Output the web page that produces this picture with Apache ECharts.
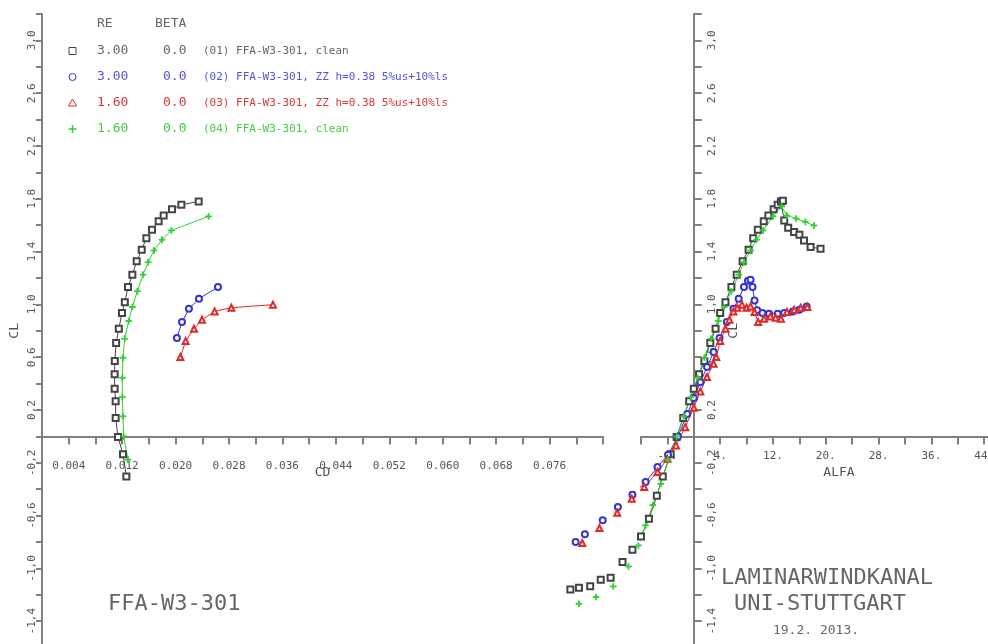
<!DOCTYPE html>
<html>
<head>
<meta charset="utf-8">
<script src="https://cdn.jsdelivr.net/npm/echarts@6/dist/echarts.min.js"></script>
<style>
  html, body { margin: 0; padding: 0; background: #fff; }
  #main { width: 988px; height: 644px; }
</style>
</head>
<body>
<div id="main"></div>
<script>
// lift curves CL(alfa)
var blackAlfa = [-18.7, -17.4, -15.7, -14.1, -12.6, -10.8, -9.3, -8.0, -6.8, -5.6, -4.7, -3.5, -2.6, -1.6, -0.7, 0.0, 0.8, 1.6, 2.5, 3.3, 4.0, 4.8, 5.7, 6.5, 7.4, 8.3, 9.0, 9.7, 10.6, 11.3, 12.1, 12.7, 13.2, 13.5, 13.7, 14.3, 15.2, 16.0, 16.7, 17.7, 19.2];
var blackCl = [-1.159, -1.146, -1.136, -1.086, -1.07, -0.952, -0.859, -0.758, -0.624, -0.45, -0.303, -0.136, -0.005, 0.139, 0.267, 0.361, 0.47, 0.571, 0.707, 0.816, 0.934, 1.017, 1.131, 1.225, 1.326, 1.414, 1.502, 1.566, 1.629, 1.674, 1.72, 1.755, 1.78, 1.785, 1.636, 1.58, 1.548, 1.528, 1.485, 1.434, 1.422];

var blueAlfa = [-17.9, -16.5, -13.8, -11.5, -9.3, -7.3, -5.5, -3.9, -2.4, -1.0, 0.0, 1.0, 2.0, 3.0, 3.9, 5.0, 6.0, 6.8, 7.6, 8.2, 8.6, 8.9, 9.2, 9.6, 10.4, 11.4, 12.7, 13.7, 15.0, 16.0, 17.1];
var blueCl = [-0.80, -0.742, -0.636, -0.535, -0.442, -0.346, -0.232, -0.139, 0.0, 0.17, 0.29, 0.41, 0.525, 0.64, 0.745, 0.866, 0.967, 1.043, 1.131, 1.18, 1.187, 1.131, 1.03, 0.955, 0.934, 0.929, 0.93, 0.934, 0.947, 0.96, 0.985];

var redAlfa = [-16.9, -14.3, -11.6, -9.4, -7.5, -5.5, -4.0, -2.7, -1.3, 0.0, 1.0, 2.0, 3.0, 3.4, 4.0, 4.8, 5.4, 6.0, 6.6, 7.3, 8.0, 8.6, 9.2, 9.75, 10.65, 11.6, 12.4, 13.2, 14.1, 15.2, 16.2, 17.2];
var redCl = [-0.808, -0.694, -0.578, -0.472, -0.384, -0.27, -0.17, -0.068, 0.07, 0.217, 0.341, 0.45, 0.55, 0.601, 0.722, 0.816, 0.884, 0.947, 0.975, 0.998, 0.975, 0.985, 0.942, 0.866, 0.891, 0.909, 0.899, 0.891, 0.942, 0.96, 0.975, 0.98];

var greenAlfa = [-17.4, -14.8, -12.2, -9.9, -8.4, -7.3, -6.2, -5.0, -3.9, -2.6, -1.5, -0.45, 0.56, 1.6, 2.6, 3.7, 4.6, 5.7, 6.8, 7.6, 8.6, 9.5, 10.5, 12.0, 13.3, 14.1, 15.5, 16.9, 18.2];
var greenCl = [-1.268, -1.217, -1.136, -0.985, -0.826, -0.674, -0.52, -0.36, -0.177, 0.0, 0.152, 0.298, 0.444, 0.596, 0.74, 0.874, 0.98, 1.10, 1.225, 1.32, 1.409, 1.49, 1.56, 1.667, 1.742, 1.674, 1.65, 1.625, 1.598];

// polars CL(CD)
var blackCd = [0.01263, 0.01213, 0.01138, 0.01103, 0.01103, 0.01088, 0.01088, 0.0109, 0.0111, 0.0115, 0.01198, 0.0124, 0.01288, 0.01353, 0.01418, 0.01493, 0.01563, 0.01647, 0.01747, 0.01822, 0.01947, 0.02087, 0.02346];
var blackClPolar = [-0.303, -0.136, -0.005, 0.139, 0.267, 0.361, 0.47, 0.571, 0.707, 0.816, 0.934, 1.017, 1.131, 1.225, 1.326, 1.414, 1.502, 1.566, 1.629, 1.674, 1.72, 1.755, 1.78];

var blueCd = [0.0202, 0.02096, 0.022, 0.0235, 0.02635];
var blueClPolar = [0.745, 0.866, 0.967, 1.043, 1.131];

var redCd = [0.02072, 0.02151, 0.02276, 0.02396, 0.02585, 0.02835, 0.03458];
var redClPolar = [0.601, 0.722, 0.816, 0.884, 0.947, 0.975, 0.998];

var greenCd = [0.01288, 0.01223, 0.01213, 0.01203, 0.01203, 0.01213, 0.01238, 0.01298, 0.01353, 0.01428, 0.01512, 0.0159, 0.01677, 0.01797, 0.01937, 0.02495];
var greenClPolar = [-0.177, 0.0, 0.152, 0.298, 0.444, 0.596, 0.74, 0.874, 0.98, 1.10, 1.225, 1.32, 1.409, 1.49, 1.56, 1.667];

// legend rows
var legendRe = ["3.00", "3.00", "1.60", "1.60"];
var legendBeta = ["0.0", "0.0", "0.0", "0.0"];
var legendNames = ["(01) FFA-W3-301, clean", "(02) FFA-W3-301, ZZ h=0.38 5%us+10%ls", "(03) FFA-W3-301, ZZ h=0.38 5%us+10%ls", "(04) FFA-W3-301, clean"];

var colors = ["#444444", "#3434d4", "#e02a2a", "#34d034"];
var textColors = ["#666666", "#5555d0", "#d83838", "#44cc44"];
var plusPath = "path://M4.3,0H5.7V4.3H10V5.7H5.7V10H4.3V5.7H0V4.3H4.3Z";
var symbols = ["emptyRect", "emptyCircle", "emptyTriangle", plusPath];
var sizes = [6, 6, 6, 6];

var FONT = "'DejaVu Sans Mono', monospace";
var axisGray = "#808080";

// plot frame: left panel CD 0..0.084, right panel ALFA -8..52, both CL -1.6..3.2
var gridTop = 14, gridH = 633.6;
var zeroOffset = -(gridH * 1.6 / 4.8);   // move x axes up to CL = 0
var alfaZeroOffset = -(396 * 52 / 60);   // move right CL axis (from right edge) to ALFA = 0

function zip(a, b) {
    var out = [];
    for (var i = 0; i < a.length; i++) out.push([a[i], b[i]]);
    return out;
}

function clLabel(v) {
    var k = Math.abs(Math.round(v * 10)) % 4;
    if (k !== 2) return "";
    return v.toFixed(1).replace(".", ",");
}

function initializeChart() {
    var chart = echarts.init(document.getElementById("main"));

    var polars = [[blackCd, blackClPolar], [blueCd, blueClPolar], [redCd, redClPolar], [greenCd, greenClPolar]];
    var lifts = [[blackAlfa, blackCl], [blueAlfa, blueCl], [redAlfa, redCl], [greenAlfa, greenCl]];

    var series = [];
    for (var i = 0; i < 4; i++) {
        var common = {
            type: "line",
            symbol: symbols[i],
            symbolSize: sizes[i],
            showAllSymbol: true,
            clip: false,
            animation: false,
            lineStyle: { color: colors[i], width: 1 },
            itemStyle: { color: colors[i], borderColor: colors[i], borderWidth: 1 },
            z: 3
        };
        series.push(Object.assign({}, common, {
            xAxisIndex: 0, yAxisIndex: 0,
            data: zip(polars[i][0], polars[i][1])
        }));
        series.push(Object.assign({}, common, {
            xAxisIndex: 1, yAxisIndex: 1,
            data: zip(lifts[i][0], lifts[i][1])
        }));
    }

    var graphics = [
        { type: "text", x: 97, y: 24, style: { text: "RE", font: "13px " + FONT, fill: "#666", verticalAlign: "middle" } },
        { type: "text", x: 155, y: 24, style: { text: "BETA", font: "13px " + FONT, fill: "#666", verticalAlign: "middle" } },
        { type: "text", x: 108, y: 604, style: { text: "FFA-W3-301", font: "22px " + FONT, fill: "#666", verticalAlign: "middle" } },
        { type: "text", x: 827, y: 578, style: { text: "LAMINARWINDKANAL", font: "22px " + FONT, fill: "#666", align: "center", verticalAlign: "middle" } },
        { type: "text", x: 820, y: 604, style: { text: "UNI-STUTTGART", font: "22px " + FONT, fill: "#666", align: "center", verticalAlign: "middle" } },
        { type: "text", x: 816, y: 631, style: { text: "19.2. 2013.", font: "13px " + FONT, fill: "#666", align: "center", verticalAlign: "middle" } }
    ];
    var rowY = [51, 77, 103, 129];
    for (var r = 0; r < 4; r++) {
        graphics.push({ type: "text", x: 97, y: rowY[r], style: { text: legendRe[r], font: "13px " + FONT, fill: textColors[r], verticalAlign: "middle" } });
        graphics.push({ type: "text", x: 163, y: rowY[r], style: { text: legendBeta[r], font: "13px " + FONT, fill: textColors[r], verticalAlign: "middle" } });
        graphics.push({ type: "text", x: 203, y: rowY[r], style: { text: legendNames[r], font: "11px " + FONT, fill: textColors[r], verticalAlign: "middle" } });
    }
    graphics.push({ type: "rect", shape: { x: 69, y: rowY[0] - 3.5, width: 7, height: 7 }, style: { fill: "none", stroke: colors[0], lineWidth: 1 } });
    graphics.push({ type: "circle", shape: { cx: 72.5, cy: rowY[1], r: 3.5 }, style: { fill: "none", stroke: colors[1], lineWidth: 1 } });
    graphics.push({ type: "polygon", shape: { points: [[72.5, rowY[2] - 4], [76.5, rowY[2] + 3], [68.5, rowY[2] + 3]] }, style: { fill: "none", stroke: colors[2], lineWidth: 1 } });
    graphics.push({ type: "polyline", shape: { points: [[68.5, rowY[3]], [76.5, rowY[3]]] }, style: { stroke: colors[3], lineWidth: 1.5 } });
    graphics.push({ type: "polyline", shape: { points: [[72.5, rowY[3] - 4], [72.5, rowY[3] + 4]] }, style: { stroke: colors[3], lineWidth: 1.5 } });

    var axisLineStyle = { color: axisGray, width: 2 };
    var labelStyle = { fontFamily: FONT, fontSize: 11, color: "#555" };
    var nameStyle = { fontFamily: FONT, fontSize: 13, color: "#555" };

    var options = {
        backgroundColor: "#fff",
        animation: false,
        grid: [
            { left: 42, top: gridTop, width: 561, height: gridH, outerBoundsMode: "none", containLabel: false },
            { left: 641, top: gridTop, width: 396, height: gridH, outerBoundsMode: "none", containLabel: false }
        ],
        xAxis: [{
            gridIndex: 0, type: "value", min: 0, max: 0.084, interval: 0.004,
            position: "bottom", offset: zeroOffset,
            axisLine: { onZero: false, lineStyle: axisLineStyle },
            axisTick: { length: 8, lineStyle: axisLineStyle },
            splitLine: { show: false },
            axisLabel: Object.assign({}, labelStyle, {
                margin: 24,
                formatter: function (v) {
                    var k = Math.round(v / 0.004);
                    return (k % 2 === 1 && v < 0.08) ? v.toFixed(3) : "";
                }
            }),
            name: "CD", nameLocation: "middle", nameGap: 30, nameMoveOverlap: false,
            nameTextStyle: nameStyle
        }, {
            gridIndex: 1, type: "value", min: -8, max: 52, interval: 4,
            position: "bottom", offset: zeroOffset,
            axisLine: { onZero: false, lineStyle: axisLineStyle },
            axisTick: { length: 8, lineStyle: axisLineStyle },
            splitLine: { show: false },
            axisLabel: Object.assign({}, labelStyle, {
                margin: 14,
                formatter: function (v) {
                    var k = Math.round(v / 4);
                    return (Math.abs(k) % 2 === 1) ? v + "." : "";
                }
            }),
            name: "ALFA", nameLocation: "middle", nameGap: 30, nameMoveOverlap: false,
            nameTextStyle: nameStyle
        }],
        yAxis: [{
            gridIndex: 0, type: "value", min: -1.6, max: 3.2, interval: 0.2,
            position: "left",
            axisLine: { onZero: false, lineStyle: axisLineStyle },
            axisTick: { length: 6, lineStyle: axisLineStyle },
            splitLine: { show: false },
            axisLabel: Object.assign({}, labelStyle, { rotate: 90, margin: 4, formatter: clLabel }),
            name: "CL", nameLocation: "middle", nameGap: 21, nameRotate: 90, nameMoveOverlap: false,
            nameTextStyle: nameStyle
        }, {
            gridIndex: 1, type: "value", min: -1.6, max: 3.2, interval: 0.2,
            position: "right", offset: alfaZeroOffset,
            axisLine: { onZero: false, lineStyle: axisLineStyle },
            axisTick: { length: 8, lineStyle: axisLineStyle },
            splitLine: { show: false },
            axisLabel: Object.assign({}, labelStyle, { rotate: 90, margin: 13, formatter: clLabel }),
            name: "CL", nameLocation: "middle", nameGap: 33, nameRotate: 90, nameMoveOverlap: false,
            nameTextStyle: nameStyle
        }],
        graphic: graphics,
        series: series
    };

    chart.setOption(options);

    window.onresize = function () {
        chart.resize();
    };
}

initializeChart();
</script>
</body>
</html>
